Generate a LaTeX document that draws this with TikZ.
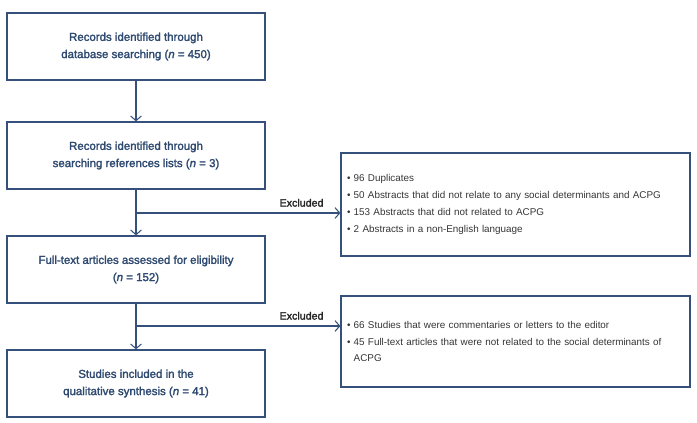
\documentclass[tikz,border=0pt]{standalone}
\usepackage{fontspec}
\setmainfont{Liberation Sans}
\newfontfamily\medfont{Liberation Sans}[FakeBold=2]
\usetikzlibrary{arrows.meta}
\definecolor{navy}{HTML}{36507C}
\definecolor{navytext}{HTML}{2F4A70}
\definecolor{greytext}{HTML}{353535}
\begin{document}
\begin{tikzpicture}[x=0.75pt,y=-0.75pt,
    stagebox/.style={draw=navy,line width=0.9pt,minimum width=258*0.75pt,minimum height=67*0.75pt,
        align=center,text=navytext,font=\medfont\fontsize{8.6}{12.9}\selectfont,inner sep=0pt},
    exclbox/.style={draw=navy,line width=0.9pt,minimum width=349*0.75pt,align=left,
        text=greytext,font=\fontsize{7.4}{12.7}\selectfont,inner xsep=4.5pt,text width=337*0.75pt},
    flow/.style={draw=navy,line width=0.8pt,-{Straight Barb[length=3.5pt,width=8pt]}},
    exclabel/.style={font=\medfont\fontsize{8}{10}\selectfont,text=black!85}]
        \useasboundingbox (0,0) rectangle (697,422);
        % main stages
        \node[stagebox] (records) at (136,46.5) {Records identified through\\database searching (\textit{n} = 450)};
        \node[stagebox] (reflists) at (136,155.5) {Records identified through\\searching references lists (\textit{n} = 3)};
        \node[stagebox] (fulltext) at (136,269.5) {Full-text articles assessed for eligibility\\(\textit{n} = 152)};
        \node[stagebox] (included) at (136,383.5) {Studies included in the\\qualitative synthesis (\textit{n} = 41)};
        % exclusions
        \node[exclbox,minimum height=103*0.75pt] (screenout) at (515.5,204.5) {%
            \textbullet{} 96 Duplicates\\
            \textbullet{} 50 Abstracts that did not relate to any social determinants and ACPG\\
            \textbullet{} 153 Abstracts that did not related to ACPG\\
            \textbullet{} 2 Abstracts in a non-English language\\[-3pt]};
        \node[exclbox,minimum height=91*0.75pt] (fullout) at (515.5,341.5) {%
            \textbullet{} 66 Studies that were commentaries or letters to the editor\\
            \textbullet{} 45 Full-text articles that were not related to the social determinants of\\
            \phantom{\textbullet{} }ACPG};
        \coordinate (split1) at (136,213);
        \coordinate (split2) at (136,326);
        % arrows
        \draw[flow] (records) -- (reflists);
        \draw[flow] (reflists) -- (fulltext);
        \draw[flow] (fulltext) -- (included);
        \draw[flow] (split1) -- node[exclabel,above=1pt,pos=0.81] (exc1) {Excluded} (split1 -| screenout.west);
        \draw[flow] (split2) -- node[exclabel,above=1pt,pos=0.81] (exc2) {Excluded} (split2 -| fullout.west);
\end{tikzpicture}
\end{document}
